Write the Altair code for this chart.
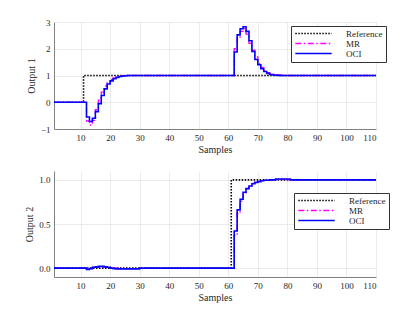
import altair as alt
import pandas as pd

# ---- data (step plots: value holds until next listed sample) ----
o1_ref_x = [1, 11, 110]
o1_ref_y = [0, 1, 1]

o1_mr_x = [1, 12, 13, 14, 15, 16, 17, 18, 19, 20, 21, 22, 23, 24, 25, 26,
           62, 63, 64, 65, 66, 67, 68, 69, 70, 71, 72, 73, 74, 75, 76, 77, 78, 110]
o1_mr_y = [0, -0.7, -0.85, -0.68, -0.28, 0.08, 0.38, 0.6, 0.74, 0.85, 0.91, 0.95, 0.97, 0.985, 0.995, 1.0,
           2.0, 2.4, 2.65, 2.75, 2.55, 2.2, 1.95, 1.7, 1.45, 1.3, 1.18, 1.11, 1.07, 1.05, 1.03, 1.02, 1.0, 1.0]

o1_oci_x = [1, 12, 13, 14, 15, 16, 17, 18, 19, 20, 21, 22, 23, 24, 25, 26,
            62, 63, 64, 65, 66, 67, 68, 69, 70, 71, 72, 73, 74, 75, 76, 77, 110]
o1_oci_y = [0, -0.55, -0.72, -0.6, -0.35, -0.05, 0.25, 0.5, 0.68, 0.8, 0.88, 0.93, 0.96, 0.98, 0.99, 1.0,
            1.88, 2.52, 2.75, 2.82, 2.65, 2.3, 1.9, 1.6, 1.4, 1.25, 1.15, 1.08, 1.04, 1.02, 1.01, 1.0, 1.0]

o2_ref_x = [1, 61, 110]
o2_ref_y = [0, 1, 1]

o2_mr_x = [1, 12, 14, 16, 19, 21, 23, 30, 62, 63, 64, 65, 66, 67, 68, 69, 70, 71, 72, 74, 76, 80, 110]
o2_mr_y = [0, -0.005, 0.01, 0.015, 0.01, 0.0, -0.005, 0.0, 0.37, 0.62, 0.76, 0.85, 0.9, 0.93, 0.96, 0.975, 0.985,
           0.99, 0.995, 1.0, 1.005, 1.0, 1.0]

o2_oci_x = [1, 12, 13, 14, 15, 16, 18, 19, 20, 21, 22, 30, 62, 63, 64, 65, 66, 67, 68, 69, 70, 71, 72, 74, 76, 81, 110]
o2_oci_y = [0, -0.015, -0.005, 0.01, 0.015, 0.02, 0.015, 0.01, 0.0, -0.005, -0.008, 0.0, 0.42, 0.66, 0.78, 0.86,
            0.9, 0.93, 0.955, 0.97, 0.98, 0.99, 0.995, 1.0, 1.01, 1.0, 1.0]

x_ticks = [10, 20, 30, 40, 50, 60, 70, 80, 90, 100, 110]
y1_ticks = [-1, 0, 1, 2, 3]
y2_ticks = [0, 0.5, 1]

series_names = ["Reference", "MR", "OCI"]
series_colors = ["#000000", "#ff00ff", "#0000ff"]
series_dash = [[1.5, 1.5], [6, 2.5, 1.5, 2.5], [1, 0]]
series_width = [1.6, 1.3, 1.6]

FONT = "Liberation Serif, DejaVu Serif, serif"
TXT = "#262626"


def panel(series, ytitle, ydomain, yticks, lx, ly, h):
    layers = []
    for (name, xs, ys), w in zip(series, series_width):
        df = pd.DataFrame({"Samples": xs, "val": ys, "series": [name] * len(xs)})
        leg = alt.Legend(
            title=None, orient="none", legendX=lx, legendY=ly,
            symbolType="M-5.2,0H5.2", symbolSize=49, symbolStrokeWidth=1.6,
            labelFont=FONT, labelFontSize=9, labelColor=TXT,
            strokeColor="#333333", fillColor="white", padding=3,
            rowPadding=0, labelOffset=28, symbolOffset=15,
        )
        layers.append(
            alt.Chart(df).mark_line(interpolate="step-after", strokeWidth=w, clip=True).encode(
                x=alt.X("Samples:Q", scale=alt.Scale(domain=[1, 110], nice=False, zero=False),
                        axis=alt.Axis(values=x_ticks, title="Samples")),
                y=alt.Y("val:Q", scale=alt.Scale(domain=ydomain, nice=False, zero=False),
                        axis=alt.Axis(values=yticks, title=ytitle)),
                color=alt.Color(
                    "series:N",
                    scale=alt.Scale(domain=series_names, range=series_colors),
                    legend=leg,
                ),
                strokeDash=alt.StrokeDash(
                    "series:N",
                    scale=alt.Scale(domain=series_names, range=series_dash),
                    legend=leg,
                ),
            )
        )
    return alt.layer(*layers).properties(width=322, height=h)


top = panel(
    [("Reference", o1_ref_x, o1_ref_y), ("MR", o1_mr_x, o1_mr_y), ("OCI", o1_oci_x, o1_oci_y)],
    "Output 1", [-1, 3], y1_ticks, 237, 4, 107,
)
bottom = panel(
    [("Reference", o2_ref_x, o2_ref_y), ("MR", o2_mr_x, o2_mr_y), ("OCI", o2_oci_x, o2_oci_y)],
    "Output 2", [-0.1, 1.1], y2_ticks, 240, 22, 106,
)

chart = (
    alt.vconcat(top, bottom, spacing=17)
    .resolve_legend(color="independent", strokeDash="independent")
    .resolve_scale(color="independent", strokeDash="independent")
    .properties(padding={"left": 16, "top": 10, "right": 5, "bottom": 5})
    .configure_view(stroke=None)
    .configure_axis(
        labelFont=FONT, titleFont=FONT, labelFontSize=9, titleFontSize=10,
        labelColor=TXT, titleColor=TXT, titleFontWeight="normal",
        domainColor="#808080", domainWidth=1, ticks=False,
        gridColor="#e6e6e6", gridWidth=0.8,
    )
    .configure_axisX(titlePadding=2, labelPadding=4)
    .configure_axisY(titlePadding=4, labelPadding=4)
)

chart.save("out.html", embed_options={"renderer": "svg", "actions": False})
